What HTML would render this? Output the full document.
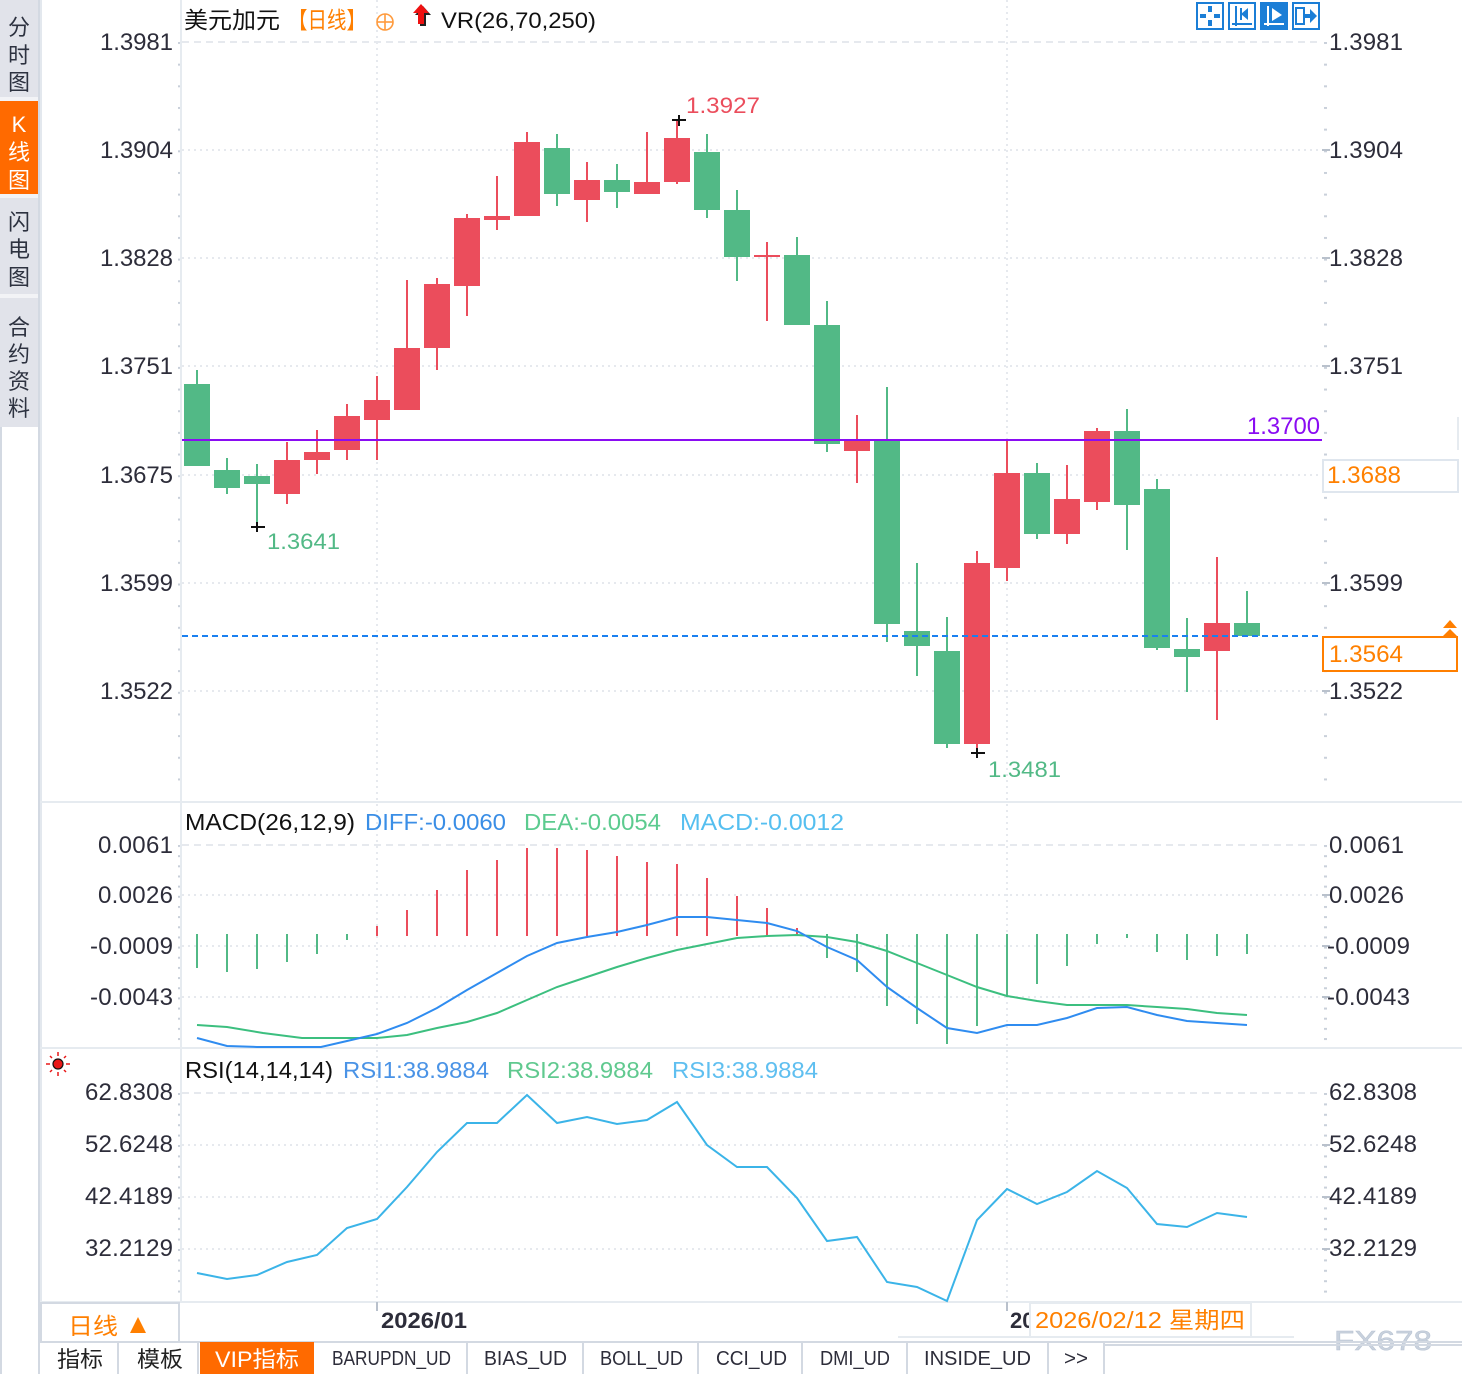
<!DOCTYPE html>
<html><head><meta charset="utf-8">
<style>
html,body{margin:0;padding:0;background:#fff;}
svg{display:block;}
text{font-family:"Liberation Sans","Noto Sans CJK SC",sans-serif;}
.ax{font-size:24px;fill:#2d2d3a;}
.cj{font-family:"Liberation Sans","Noto Sans CJK SC",sans-serif;}
.mono{font-family:"Liberation Mono","Noto Sans CJK SC",monospace;font-size:20px;fill:#2d2d3a;}
</style></head><body>
<svg width="1462" height="1374" viewBox="0 0 1462 1374" xmlns="http://www.w3.org/2000/svg">
<defs>
<pattern id="tkMain" x="0" y="42" width="10" height="21.66" patternUnits="userSpaceOnUse"><rect x="0" y="0" width="10" height="2" fill="#c9d0da"/></pattern>
<pattern id="tkMacd" x="0" y="845" width="10" height="10.16" patternUnits="userSpaceOnUse"><rect x="0" y="0" width="10" height="2" fill="#c9d0da"/></pattern>
<pattern id="tkRsi" x="0" y="1093" width="10" height="10.4" patternUnits="userSpaceOnUse"><rect x="0" y="0" width="10" height="2" fill="#c9d0da"/></pattern>
</defs>
<rect x="0" y="0" width="1462" height="1374" fill="#fff"/>

<!-- Left sidebar -->
<rect x="0" y="0" width="39" height="427" fill="#e1e3ea"/>
<rect x="0" y="97" width="39" height="4" fill="#f2f3f6"/>
<rect x="0" y="101" width="38" height="93" fill="#ff6a00"/>
<rect x="0" y="194" width="39" height="4" fill="#f2f3f6"/>
<rect x="0" y="294" width="39" height="4" fill="#f2f3f6"/>
<line x1="1" y1="427" x2="1" y2="1374" stroke="#d3d9e2" stroke-width="2"/>
<line x1="39" y1="0" x2="39" y2="1374" stroke="#d3d9e2" stroke-width="2"/>
<g class="cj" font-size="22" fill="#2d3240" text-anchor="middle">
<text x="19" y="35">分</text><text x="19" y="63">时</text><text x="19" y="90">图</text>
<text x="19" y="132" fill="#fff">K</text><text x="19" y="160" fill="#fff">线</text><text x="19" y="188" fill="#fff">图</text>
<text x="19" y="230">闪</text><text x="19" y="257">电</text><text x="19" y="285">图</text>
<text x="19" y="335">合</text><text x="19" y="362">约</text><text x="19" y="389">资</text><text x="19" y="416">料</text>
</g>

<!-- panel frame lines -->
<line x1="41" y1="0" x2="41" y2="1342" stroke="#e3e8ee" stroke-width="2"/>
<line x1="181" y1="0" x2="181" y2="1302" stroke="#e6ebf0" stroke-width="2"/>
<line x1="40" y1="802" x2="1462" y2="802" stroke="#e6ebf0" stroke-width="2"/>
<line x1="40" y1="1048" x2="1462" y2="1048" stroke="#e6ebf0" stroke-width="2"/>
<line x1="40" y1="1302" x2="1462" y2="1302" stroke="#e6ebf0" stroke-width="2"/>

<!-- grid -->
<g stroke="#e6e9ee" stroke-width="2" fill="none">
<line x1="182" y1="42" x2="1322" y2="42" stroke-dasharray="7,5"/>
<line x1="182" y1="150" x2="1322" y2="150" stroke-dasharray="2,4"/>
<line x1="182" y1="258" x2="1322" y2="258" stroke-dasharray="2,4"/>
<line x1="182" y1="366" x2="1322" y2="366" stroke-dasharray="2,4"/>
<line x1="182" y1="475" x2="1322" y2="475" stroke-dasharray="2,4"/>
<line x1="182" y1="583" x2="1322" y2="583" stroke-dasharray="2,4"/>
<line x1="182" y1="691" x2="1322" y2="691" stroke-dasharray="2,4"/>
<line x1="182" y1="845" x2="1322" y2="845" stroke-dasharray="7,5"/>
<line x1="182" y1="895" x2="1322" y2="895" stroke-dasharray="2,4"/>
<line x1="182" y1="946" x2="1322" y2="946" stroke-dasharray="2,4"/>
<line x1="182" y1="997" x2="1322" y2="997" stroke-dasharray="2,4"/>
<line x1="182" y1="1093" x2="1322" y2="1093" stroke-dasharray="7,5"/>
<line x1="182" y1="1145" x2="1322" y2="1145" stroke-dasharray="2,4"/>
<line x1="182" y1="1197" x2="1322" y2="1197" stroke-dasharray="2,4"/>
<line x1="182" y1="1249" x2="1322" y2="1249" stroke-dasharray="2,4"/>
<line x1="377" y1="0" x2="377" y2="1302" stroke-dasharray="2,4"/>
<line x1="1007" y1="0" x2="1007" y2="1302" stroke-dasharray="2,4"/>
</g>

<!-- axis ticks -->
<rect x="178" y="42" width="2" height="740" fill="url(#tkMain)"/>
<rect x="1324" y="42" width="3" height="740" fill="url(#tkMain)"/>
<rect x="178" y="845" width="2" height="200" fill="url(#tkMacd)"/>
<rect x="1324" y="845" width="3" height="200" fill="url(#tkMacd)"/>
<rect x="178" y="1093" width="2" height="206" fill="url(#tkRsi)"/>
<rect x="1324" y="1093" width="3" height="206" fill="url(#tkRsi)"/>
<g stroke="#b9c1cc" stroke-width="2">
<line x1="1322" y1="150" x2="1330" y2="150"/><line x1="1322" y1="258" x2="1330" y2="258"/>
<line x1="1322" y1="366" x2="1330" y2="366"/><line x1="1322" y1="583" x2="1330" y2="583"/>
<line x1="1322" y1="691" x2="1330" y2="691"/>
<line x1="1322" y1="895" x2="1330" y2="895"/><line x1="1322" y1="946" x2="1330" y2="946"/><line x1="1322" y1="997" x2="1330" y2="997"/>
<line x1="1322" y1="1145" x2="1330" y2="1145"/><line x1="1322" y1="1197" x2="1330" y2="1197"/><line x1="1322" y1="1249" x2="1330" y2="1249"/>
<line x1="377" y1="1302" x2="377" y2="1311"/><line x1="1007" y1="1302" x2="1007" y2="1311"/>
</g>

<!-- main axis labels -->
<g class="ax" text-anchor="end">
<text x="173" y="50" textLength="73">1.3981</text>
<text x="173" y="158" textLength="73">1.3904</text>
<text x="173" y="266" textLength="73">1.3828</text>
<text x="173" y="374" textLength="73">1.3751</text>
<text x="173" y="483" textLength="73">1.3675</text>
<text x="173" y="591" textLength="73">1.3599</text>
<text x="173" y="699" textLength="73">1.3522</text>
<text x="173" y="853" textLength="75">0.0061</text>
<text x="173" y="903" textLength="75">0.0026</text>
<text x="173" y="954" textLength="83">-0.0009</text>
<text x="173" y="1005" textLength="83">-0.0043</text>
<text x="173" y="1100" textLength="88">62.8308</text>
<text x="173" y="1152" textLength="88">52.6248</text>
<text x="173" y="1204" textLength="88">42.4189</text>
<text x="173" y="1256" textLength="88">32.2129</text>
</g>
<g class="ax">
<text x="1329" y="50" textLength="74">1.3981</text>
<text x="1329" y="158" textLength="74">1.3904</text>
<text x="1329" y="266" textLength="74">1.3828</text>
<text x="1329" y="374" textLength="74">1.3751</text>
<text x="1329" y="591" textLength="74">1.3599</text>
<text x="1329" y="699" textLength="74">1.3522</text>
<text x="1329" y="853" textLength="75">0.0061</text>
<text x="1329" y="903" textLength="75">0.0026</text>
<text x="1327" y="954" textLength="83">-0.0009</text>
<text x="1327" y="1005" textLength="83">-0.0043</text>
<text x="1329" y="1100" textLength="88">62.8308</text>
<text x="1329" y="1152" textLength="88">52.6248</text>
<text x="1329" y="1204" textLength="88">42.4189</text>
<text x="1329" y="1256" textLength="88">32.2129</text>
</g>

<!-- header -->
<text x="184" y="28" font-size="23" fill="#111" textLength="96" lengthAdjust="spacingAndGlyphs">美元加元</text>
<text x="288" y="28" font-size="23" fill="#ff7f00" textLength="78" lengthAdjust="spacingAndGlyphs">【日线】</text>
<circle cx="385" cy="22" r="8" fill="none" stroke="#ff9a3c" stroke-width="1.6"/>
<line x1="377" y1="22" x2="393" y2="22" stroke="#ff9a3c" stroke-width="1.6"/>
<line x1="385" y1="14" x2="385" y2="30" stroke="#ff9a3c" stroke-width="1.6"/>
<polygon points="423,6 415,15 420,15 420,26 426,26 426,15 431,15" fill="#222"/>
<polygon points="421,4 413,13 418,13 418,24 424,24 424,13 429,13" fill="#ee1111"/>
<text x="441" y="28" font-size="22" fill="#111" textLength="155" lengthAdjust="spacingAndGlyphs">VR(26,70,250)</text>

<!-- top-right icons -->
<g fill="none" stroke="#1b7ed6" stroke-width="2">
<rect x="1197" y="3" width="26" height="26"/>
<rect x="1229" y="3" width="26" height="26"/>
<rect x="1293" y="3" width="26" height="26"/>
</g>
<rect x="1260" y="2" width="28" height="28" fill="#1b7ed6"/>
<g fill="#1b7ed6">
<rect x="1208" y="6" width="4" height="6"/><rect x="1208" y="20" width="4" height="6"/>
<rect x="1200" y="14" width="6" height="4"/><rect x="1214" y="14" width="6" height="4"/>
<rect x="1235" y="6" width="2" height="20"/><rect x="1232" y="23" width="20" height="2"/>
<polygon points="1241,14 1248,8 1248,20"/><rect x="1240" y="8" width="2" height="12"/>
<rect x="1296" y="8" width="8" height="16" fill="none" stroke="#1b7ed6" stroke-width="2"/>
<rect x="1304" y="14" width="7" height="4"/><polygon points="1310,9 1317,16 1310,23"/>
</g>
<g fill="#fff">
<rect x="1267" y="6" width="2" height="20"/><rect x="1264" y="23" width="20" height="2"/>
<polygon points="1272,8 1282,15 1272,21"/>
</g>

<!-- candles green -->
<g fill="#52b986">
<rect x="196" y="370" width="2" height="96"/><rect x="184" y="384" width="26" height="82"/>
<rect x="226" y="458" width="2" height="36"/><rect x="214" y="470" width="26" height="18"/>
<rect x="256" y="464" width="2" height="63"/><rect x="244" y="476" width="26" height="8"/>
<rect x="556" y="134" width="2" height="72"/><rect x="544" y="148" width="26" height="46"/>
<rect x="616" y="164" width="2" height="44"/><rect x="604" y="180" width="26" height="12"/>
<rect x="706" y="134" width="2" height="84"/><rect x="694" y="152" width="26" height="58"/>
<rect x="736" y="190" width="2" height="91"/><rect x="724" y="210" width="26" height="47"/>
<rect x="796" y="237" width="2" height="88"/><rect x="784" y="255" width="26" height="70"/>
<rect x="826" y="301" width="2" height="151"/><rect x="814" y="325" width="26" height="119"/>
<rect x="886" y="387" width="2" height="255"/><rect x="874" y="441" width="26" height="183"/>
<rect x="916" y="563" width="2" height="113"/><rect x="904" y="631" width="26" height="15"/>
<rect x="946" y="617" width="2" height="131"/><rect x="934" y="651" width="26" height="93"/>
<rect x="1036" y="463" width="2" height="76"/><rect x="1024" y="473" width="26" height="61"/>
<rect x="1126" y="409" width="2" height="141"/><rect x="1114" y="431" width="26" height="74"/>
<rect x="1156" y="479" width="2" height="171"/><rect x="1144" y="489" width="26" height="159"/>
<rect x="1186" y="618" width="2" height="74"/><rect x="1174" y="649" width="26" height="8"/>
<rect x="1246" y="591" width="2" height="45"/><rect x="1234" y="623" width="26" height="13"/>
</g>
<!-- candles red -->
<g fill="#eb4d5c">
<rect x="286" y="442" width="2" height="62"/><rect x="274" y="460" width="26" height="34"/>
<rect x="316" y="430" width="2" height="44"/><rect x="304" y="452" width="26" height="8"/>
<rect x="346" y="404" width="2" height="56"/><rect x="334" y="416" width="26" height="34"/>
<rect x="376" y="376" width="2" height="84"/><rect x="364" y="400" width="26" height="20"/>
<rect x="406" y="280" width="2" height="130"/><rect x="394" y="348" width="26" height="62"/>
<rect x="436" y="278" width="2" height="92"/><rect x="424" y="284" width="26" height="64"/>
<rect x="466" y="214" width="2" height="102"/><rect x="454" y="218" width="26" height="68"/>
<rect x="496" y="176" width="2" height="54"/><rect x="484" y="216" width="26" height="4"/>
<rect x="526" y="132" width="2" height="84"/><rect x="514" y="142" width="26" height="74"/>
<rect x="586" y="162" width="2" height="60"/><rect x="574" y="180" width="26" height="20"/>
<rect x="646" y="132" width="2" height="62"/><rect x="634" y="182" width="26" height="12"/>
<rect x="676" y="121" width="2" height="63"/><rect x="664" y="138" width="26" height="44"/>
<rect x="766" y="242" width="2" height="79"/><rect x="754" y="255" width="26" height="2"/>
<rect x="856" y="415" width="2" height="68"/><rect x="844" y="441" width="26" height="10"/>
<rect x="976" y="551" width="2" height="202"/><rect x="964" y="563" width="26" height="181"/>
<rect x="1006" y="440" width="2" height="141"/><rect x="994" y="473" width="26" height="95"/>
<rect x="1066" y="465" width="2" height="79"/><rect x="1054" y="499" width="26" height="35"/>
<rect x="1096" y="428" width="2" height="82"/><rect x="1084" y="431" width="26" height="71"/>
<rect x="1216" y="557" width="2" height="163"/><rect x="1204" y="623" width="26" height="28"/>
</g>

<!-- horizontal lines -->
<line x1="182" y1="440" x2="1322" y2="440" stroke="#8a0cf2" stroke-width="2"/>
<line x1="182" y1="636" x2="1322" y2="636" stroke="#1a80f0" stroke-width="2" stroke-dasharray="6,4"/>

<!-- high/low markers -->
<g stroke="#111" stroke-width="2">
<line x1="672" y1="120" x2="686" y2="120"/><line x1="679" y1="115" x2="679" y2="126"/>
<line x1="251" y1="527" x2="265" y2="527"/><line x1="257" y1="522" x2="257" y2="532"/>
<line x1="971" y1="753" x2="985" y2="753"/><line x1="977" y1="748" x2="977" y2="758"/>
</g>
<text x="686" y="113" font-size="22" fill="#eb4d5c" textLength="74" lengthAdjust="spacingAndGlyphs">1.3927</text>
<text x="267" y="549" font-size="22" fill="#52b986" textLength="73" lengthAdjust="spacingAndGlyphs">1.3641</text>
<text x="988" y="777" font-size="22" fill="#52b986" textLength="73" lengthAdjust="spacingAndGlyphs">1.3481</text>

<!-- price labels right -->
<text x="1320" y="434" font-size="24" fill="#8a0cf2" text-anchor="end" textLength="73" lengthAdjust="spacingAndGlyphs">1.3700</text>
<line x1="1458" y1="417" x2="1458" y2="450" stroke="#e6ebf0" stroke-width="2"/>
<rect x="1323" y="460" width="135" height="32" fill="#fff" stroke="#dfe6ee" stroke-width="2"/>
<text x="1327" y="483" font-size="24" fill="#ff8000" textLength="74" lengthAdjust="spacingAndGlyphs">1.3688</text>
<rect x="1323" y="637" width="134" height="34" fill="#fff" stroke="#ff7f00" stroke-width="2"/>
<text x="1329" y="662" font-size="24" fill="#ff8000" textLength="74" lengthAdjust="spacingAndGlyphs">1.3564</text>
<polygon points="1443,628 1450,620 1457,628" fill="#ff7f00"/>
<polygon points="1443,636 1450,629 1457,636" fill="#ff7f00"/>

<!-- MACD header -->
<text x="185" y="830" font-size="23" fill="#111" textLength="170" lengthAdjust="spacingAndGlyphs">MACD(26,12,9)</text>
<text x="365" y="830" font-size="23" fill="#3a8ee6" textLength="141" lengthAdjust="spacingAndGlyphs">DIFF:-0.0060</text>
<text x="524" y="830" font-size="23" fill="#5ccb8f" textLength="137" lengthAdjust="spacingAndGlyphs">DEA:-0.0054</text>
<text x="680" y="830" font-size="23" fill="#55bff0" textLength="164" lengthAdjust="spacingAndGlyphs">MACD:-0.0012</text>

<!-- MACD bars green -->
<g stroke="#52b986" stroke-width="2">
<line x1="197" y1="934" x2="197" y2="968"/><line x1="227" y1="934" x2="227" y2="972"/>
<line x1="257" y1="934" x2="257" y2="969"/><line x1="287" y1="934" x2="287" y2="962"/>
<line x1="317" y1="934" x2="317" y2="954"/><line x1="347" y1="934" x2="347" y2="940"/>
<line x1="827" y1="934" x2="827" y2="958"/><line x1="857" y1="934" x2="857" y2="972"/>
<line x1="887" y1="934" x2="887" y2="1006"/><line x1="917" y1="934" x2="917" y2="1024"/>
<line x1="947" y1="934" x2="947" y2="1044"/><line x1="977" y1="934" x2="977" y2="1026"/>
<line x1="1007" y1="934" x2="1007" y2="997"/><line x1="1037" y1="934" x2="1037" y2="984"/>
<line x1="1067" y1="934" x2="1067" y2="966"/><line x1="1097" y1="934" x2="1097" y2="944"/>
<line x1="1127" y1="934" x2="1127" y2="938"/><line x1="1157" y1="934" x2="1157" y2="952"/>
<line x1="1187" y1="934" x2="1187" y2="960"/><line x1="1217" y1="934" x2="1217" y2="956"/>
<line x1="1247" y1="934" x2="1247" y2="954"/>
</g>
<g stroke="#eb4d5c" stroke-width="2">
<line x1="377" y1="926" x2="377" y2="936"/><line x1="407" y1="910" x2="407" y2="936"/>
<line x1="437" y1="890" x2="437" y2="936"/><line x1="467" y1="870" x2="467" y2="936"/>
<line x1="497" y1="860" x2="497" y2="936"/><line x1="527" y1="848" x2="527" y2="936"/>
<line x1="557" y1="848" x2="557" y2="936"/><line x1="587" y1="850" x2="587" y2="936"/>
<line x1="617" y1="856" x2="617" y2="936"/><line x1="647" y1="862" x2="647" y2="936"/>
<line x1="677" y1="864" x2="677" y2="936"/><line x1="707" y1="878" x2="707" y2="936"/>
<line x1="737" y1="896" x2="737" y2="936"/><line x1="767" y1="908" x2="767" y2="936"/>
<line x1="797" y1="928" x2="797" y2="936"/>
</g>
<polyline fill="none" stroke="#3cbf7f" stroke-width="2" points="197,1025 227,1027 263,1033 302,1038 377,1038 407,1035 437,1028 467,1022 497,1013 527,1000 557,987 587,977 617,967 647,958 677,950 707,944 737,938 767,936 797,935 827,937 857,942 887,951 917,963 947,975 977,987 1007,996 1037,1001 1067,1005 1097,1005 1127,1005 1157,1007 1187,1009 1217,1013 1247,1015"/>
<polyline fill="none" stroke="#2f8cf0" stroke-width="2" points="197,1038 227,1046 257,1047 287,1047 321,1047 347,1041 377,1034 407,1023 437,1008 467,990 497,973 527,956 557,943 587,937 617,932 647,925 677,917 707,917 737,920 767,923 797,931 827,947 857,960 887,987 917,1008 947,1028 977,1033 1007,1025 1037,1025 1067,1018 1097,1008 1127,1007 1157,1015 1187,1021 1217,1023 1247,1025"/>

<!-- RSI header -->
<g>
<circle cx="58" cy="1064" r="5" fill="#e81818" stroke="#111" stroke-width="1.2"/>
<g stroke="#e81818" stroke-width="1.5">
<line x1="58" y1="1052" x2="58" y2="1056"/><line x1="58" y1="1072" x2="58" y2="1076"/>
<line x1="46" y1="1064" x2="50" y2="1064"/><line x1="66" y1="1064" x2="70" y2="1064"/>
<line x1="50" y1="1056" x2="52" y2="1058"/><line x1="64" y1="1070" x2="66" y2="1072"/>
<line x1="66" y1="1056" x2="64" y2="1058"/><line x1="50" y1="1072" x2="52" y2="1070"/>
</g>
</g>
<text x="185" y="1078" font-size="23" fill="#111" textLength="148" lengthAdjust="spacingAndGlyphs">RSI(14,14,14)</text>
<text x="343" y="1078" font-size="23" fill="#4a93e6" textLength="146" lengthAdjust="spacingAndGlyphs">RSI1:38.9884</text>
<text x="507" y="1078" font-size="23" fill="#60c98f" textLength="146" lengthAdjust="spacingAndGlyphs">RSI2:38.9884</text>
<text x="672" y="1078" font-size="23" fill="#5fbff0" textLength="146" lengthAdjust="spacingAndGlyphs">RSI3:38.9884</text>
<polyline fill="none" stroke="#3bb4e8" stroke-width="2" points="197,1273 227,1279 257,1275 287,1262 317,1255 347,1228 377,1219 407,1187 437,1152 467,1123 497,1123 527,1095 557,1123 587,1117 617,1124 647,1120 677,1102 707,1145 737,1167 767,1167 797,1198 827,1241 857,1237 887,1282 917,1287 947,1301 977,1220 1007,1189 1037,1204 1067,1192 1097,1171 1127,1188 1157,1224 1187,1227 1217,1213 1247,1217"/>

<!-- date axis -->
<text x="381" y="1328" font-size="22" font-weight="bold" fill="#2d2d3a" textLength="86" lengthAdjust="spacingAndGlyphs">2026/01</text>
<text x="1010" y="1328" font-size="22" font-weight="bold" fill="#2d2d3a">2026</text>
<line x1="898" y1="1337" x2="1294" y2="1337" stroke="#e6ebf0" stroke-width="2"/>
<rect x="1030" y="1303" width="221" height="34" fill="#fff" stroke="#e6ebf0" stroke-width="2"/>
<text x="1035" y="1328" font-size="23" fill="#ff8000" textLength="210" lengthAdjust="spacingAndGlyphs">2026/02/12 星期四</text>

<rect x="41" y="1303" width="138" height="39" fill="#fff" stroke="#d3d9e2" stroke-width="2"/>
<text x="68" y="1334" font-size="23" fill="#ff7f00" textLength="50" lengthAdjust="spacingAndGlyphs">日线</text>
<polygon points="130,1333 138,1317 146,1333" fill="#ff7f00"/>

<!-- watermark -->
<text x="1334" y="1350" font-size="28" fill="#c8d1dd" textLength="98" lengthAdjust="spacingAndGlyphs" stroke="#b8c3d2" stroke-width="0.5">FX678</text>

<!-- tabs row -->
<line x1="40" y1="1342" x2="1462" y2="1342" stroke="#d3d9e2" stroke-width="2"/>
<rect x="200" y="1342" width="114" height="32" fill="#ff6a00"/>
<g stroke="#d3d9e2" stroke-width="2">
<line x1="118" y1="1342" x2="118" y2="1374"/><line x1="198" y1="1342" x2="198" y2="1374"/>
<line x1="467" y1="1342" x2="467" y2="1374"/><line x1="583" y1="1342" x2="583" y2="1374"/>
<line x1="698" y1="1342" x2="698" y2="1374"/><line x1="802" y1="1342" x2="802" y2="1374"/>
<line x1="907" y1="1342" x2="907" y2="1374"/><line x1="1048" y1="1342" x2="1048" y2="1374"/>
<line x1="1104" y1="1342" x2="1104" y2="1374"/>
</g>
<line x1="1104" y1="1345" x2="1462" y2="1345" stroke="#d3d9e2" stroke-width="2"/>
<g font-size="22" fill="#222">
<text x="57" y="1367" textLength="46" lengthAdjust="spacingAndGlyphs">指标</text>
<text x="137" y="1367" textLength="46" lengthAdjust="spacingAndGlyphs">模板</text>
<text x="215" y="1367" fill="#fff" textLength="84" lengthAdjust="spacingAndGlyphs">VIP指标</text>
</g>
<g class="mono">
<text x="332" y="1365" textLength="119" lengthAdjust="spacingAndGlyphs">BARUPDN_UD</text>
<text x="484" y="1365" textLength="83" lengthAdjust="spacingAndGlyphs">BIAS_UD</text>
<text x="600" y="1365" textLength="83" lengthAdjust="spacingAndGlyphs">BOLL_UD</text>
<text x="716" y="1365" textLength="71" lengthAdjust="spacingAndGlyphs">CCI_UD</text>
<text x="820" y="1365" textLength="70" lengthAdjust="spacingAndGlyphs">DMI_UD</text>
<text x="924" y="1365" textLength="107" lengthAdjust="spacingAndGlyphs">INSIDE_UD</text>
<text x="1064" y="1365" textLength="24" lengthAdjust="spacingAndGlyphs">&gt;&gt;</text>
</g>
</svg>
</body></html>
